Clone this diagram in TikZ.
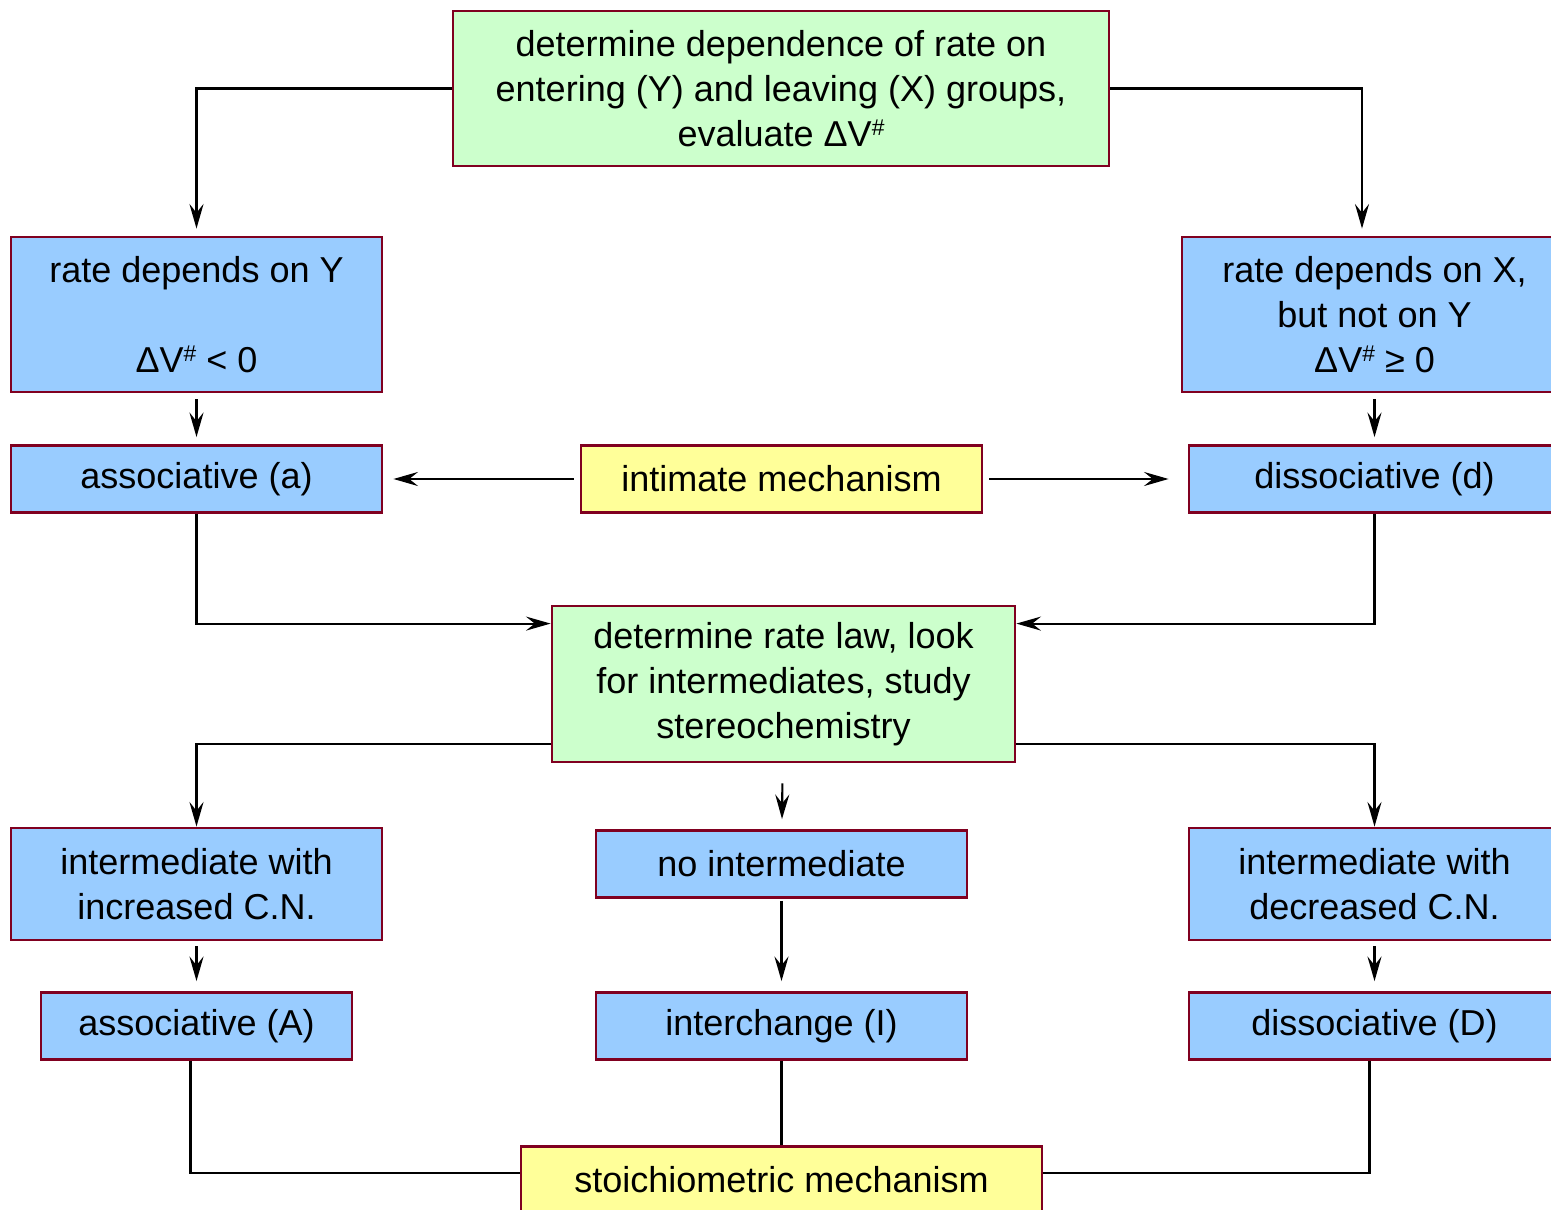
\documentclass[tikz,border=0pt]{standalone}
\usepackage{fontspec}
\setmainfont{Liberation Sans}
\usetikzlibrary{arrows.meta}
\definecolor{boxred}{RGB}{128,0,32}
\definecolor{boxgreen}{RGB}{204,255,204}
\definecolor{boxblue}{RGB}{153,204,255}
\definecolor{boxyellow}{RGB}{255,255,153}
\newcommand{\actvol}{ΔV\raisebox{0.55ex}{\fontsize{13}{13}\selectfont\#}}

\begin{document}
\begin{tikzpicture}[
    >={Stealth[length=14pt,width=8pt,inset=5pt]},
    line width=1.2pt,
    font=\fontsize{20.5}{25.6}\selectfont,
    task/.style={
		rectangle,
		draw=boxred,
		line width=1.6pt,
		fill=boxgreen,
		align=center,
		inner sep=0pt,
		minimum height=3.1cm
	},
	finding/.style={
		rectangle,
		draw=boxred,
		line width=1.6pt,
		fill=boxblue,
		align=center,
		inner sep=0pt,
		minimum width=7.42cm,
		minimum height=1.34cm
	},
	mech/.style={
		rectangle,
		draw=boxred,
		line width=1.6pt,
		fill=boxyellow,
		align=center,
		inner sep=0pt,
		minimum height=1.34cm
	}
  ]
\useasboundingbox (0,0) rectangle (31.02,-24.2);

% first test
\node [task, minimum width=13.12cm] (dep) at (15.62,-1.77)
 {determine dependence of rate on\\entering (Y) and leaving (X) groups,\\evaluate \actvol};

\node [finding, minimum height=3.1cm] (ratey) at (3.93,-6.29)
 {rate depends on Y\\[25.6pt]\actvol{} < 0};
\node [finding, minimum height=3.1cm, minimum width=7.7cm] (ratex) at (27.49,-6.29)
 {rate depends on X,\\but not on Y\\\actvol{} ≥ 0};

% intimate mechanism
\node [finding] (assoca) at (3.93,-9.58) {associative (a)};
\node [mech, minimum width=8.02cm] (intimate) at (15.63,-9.58) {intimate mechanism};
\node [finding] (dissocd) at (27.49,-9.58) {dissociative (d)};

% second test
\node [task, minimum width=9.26cm, minimum height=3.12cm] (ratelaw) at (15.67,-13.68)
 {determine rate law, look\\for intermediates, study\\stereochemistry};

\node [finding, minimum height=2.24cm] (inccn) at (3.93,-17.68)
 {intermediate with\\increased C.N.};
\node [finding] (noint) at (15.63,-17.28) {no intermediate};
\node [finding, minimum height=2.24cm] (deccn) at (27.49,-17.68)
 {intermediate with\\decreased C.N.};

% stoichiometric mechanism
\node [finding, minimum width=6.22cm] (assocA) at (3.93,-20.52) {associative (A)};
\node [finding] (interchange) at (15.63,-20.52) {interchange (I)};
\node [finding] (dissocD) at (27.49,-20.52) {dissociative (D)};
\node [mech, minimum width=10.42cm] (stoich) at (15.63,-23.6) {stoichiometric mechanism};

\draw [->, shorten >=0.14cm] (dep.west) -| (ratey.north);
\draw [->, shorten >=0.14cm] (dep.east) -| ([xshift=-0.25cm]ratex.north);
\draw [->, shorten <=0.12cm, shorten >=0.14cm] (ratey) -- (assoca);
\draw [->, shorten <=0.12cm, shorten >=0.14cm] (ratex) -- (dissocd);

\draw [->, shorten <=0.12cm, shorten >=0.2cm] (intimate) -- (assoca);
\draw [->, shorten <=0.12cm, shorten >=0.38cm] (intimate) -- (dissocd);

\draw [->] (assoca) |- ([yshift=-0.38cm]ratelaw.north west);
\draw [->] (dissocd) |- ([yshift=-0.38cm]ratelaw.north east);

\draw [->] ([yshift=0.38cm]ratelaw.south west) -| (inccn);
\draw [->] ([yshift=0.38cm]ratelaw.south east) -| (deccn);
\draw [->, shorten <=0.4cm, shorten >=0.2cm] (ratelaw) -- (noint);

\draw [->, shorten <=0.1cm, shorten >=0.2cm] (inccn) -- (assocA);
\draw [->, shorten <=0.04cm, shorten >=0.2cm] (noint) -- (interchange);
\draw [->, shorten <=0.1cm, shorten >=0.2cm] (deccn) -- (dissocD);

\draw ([xshift=-0.12cm]assocA.south) |- ([yshift=-0.56cm]stoich.north west);
\draw (interchange) -- (stoich);
\draw ([xshift=-0.1cm]dissocD.south) |- ([yshift=-0.56cm]stoich.north east);

\end{tikzpicture}
\end{document}
